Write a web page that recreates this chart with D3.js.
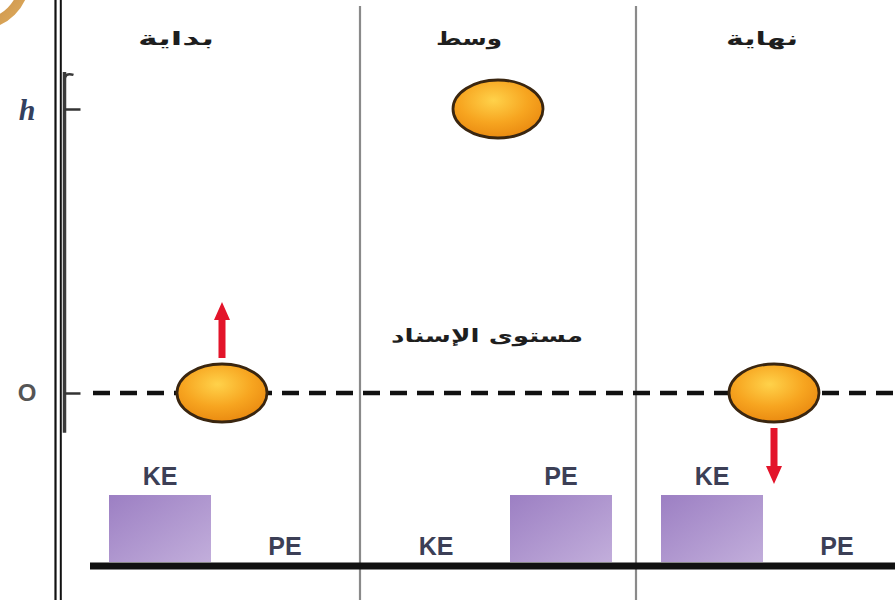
<!DOCTYPE html>
<html>
<head>
<meta charset="utf-8">
<script src="https://cdn.jsdelivr.net/npm/d3@7"></script>
<style>
  html, body { margin: 0; padding: 0; background: #ffffff; }
  svg { display: block; }
</style>
</head>
<body>
<svg id="chart" width="895" height="600"></svg>
<script>
// ---- data ----
const stages = ["بداية", "وسط", "نهاية"];          // stage titles
const keValues = [1, 0, 1];                         // kinetic energy (relative)
const peValues = [0, 1, 0];                         // potential energy (relative)
const ballHeights = [0, 1, 0];                      // ball height in units of h
const velocityDir = [1, 0, -1];                     // 1 = up, -1 = down, 0 = none
const energyNames = ["KE", "PE"];
const heightTickValues = [0, 1];
const heightTickLabels = ["O", "h"];
const referenceLabel = "مستوى الإسناد";

const svg = d3.select("#chart");
const W = 895, H = 600;

// ---- defs ----
const defs = svg.append("defs");
const bg = defs.append("radialGradient").attr("id", "ballGrad")
  .attr("cx", "45%").attr("cy", "35%").attr("r", "70%");
bg.append("stop").attr("offset", "0%").attr("stop-color", "#ffd24a");
bg.append("stop").attr("offset", "55%").attr("stop-color", "#f7a520");
bg.append("stop").attr("offset", "100%").attr("stop-color", "#e8860e");
const barG = defs.append("linearGradient").attr("id", "barGrad")
  .attr("x1", "0%").attr("y1", "0%").attr("x2", "100%").attr("y2", "100%");
barG.append("stop").attr("offset", "0%").attr("stop-color", "#9c7fc3");
barG.append("stop").attr("offset", "100%").attr("stop-color", "#c2aedb");
const arcG = defs.append("linearGradient").attr("id", "arcGrad")
  .attr("x1", "0%").attr("y1", "0%").attr("x2", "100%").attr("y2", "100%");
arcG.append("stop").attr("offset", "0%").attr("stop-color", "#b8772a");
arcG.append("stop").attr("offset", "100%").attr("stop-color", "#e0a850");

// ---- scales ----
const xPanel = d3.scalePoint().domain(stages).range([222, 774]);
const xTitle = d3.scalePoint().domain(stages).range([176, 762]);
const xSlot = d3.scaleBand().domain(energyNames).range([-113, 114]).paddingInner(0.184).paddingOuter(0);
const yE = d3.scaleLinear().domain([0, 1]).range([562, 495]);
const yH = d3.scaleLinear().domain([0, 1]).range([393, 109]);

// text widths matching the original typesetting
const titleWidth = {"بداية": 76, "وسط": 66, "نهاية": 72};

// horizontally stretch a text node (kept joined) to a target width
function fitWidth(sel, cx, target) {
  sel.each(function(d) {
    const node = this;
    const w = node.getComputedTextLength();
    const t = typeof target === "function" ? target(d) : target;
    const x = typeof cx === "function" ? cx(d) : cx;
    const s = w > 0 ? t / w : 1;
    d3.select(node).attr("x", 0)
      .attr("transform", `translate(${x},0) scale(${s},1)`);
  });
}

// ---- decorative corner arc ----
svg.append("path")
  .attr("d", d3.arc()({innerRadius: 42, outerRadius: 52, startAngle: Math.PI / 2, endAngle: Math.PI})
    .toString())
  .attr("transform", "translate(-22,-22)")
  .attr("fill", "url(#arcGrad)")
  .attr("opacity", 0.9);

// ---- left frame lines ----
svg.append("line").attr("x1", 55.5).attr("x2", 55.5).attr("y1", 0).attr("y2", H)
  .attr("stroke", "#111").attr("stroke-width", 2.2);
svg.append("line").attr("x1", 60.8).attr("x2", 60.8).attr("y1", 0).attr("y2", H)
  .attr("stroke", "#111").attr("stroke-width", 2);

// ---- height axis ----
const axisX = 64.5;
svg.append("line").attr("x1", axisX).attr("x2", axisX)
  .attr("y1", yH(1.13)).attr("y2", yH(-0.14))
  .attr("stroke", "#3a3a3a").attr("stroke-width", 3.5);
svg.append("path")
  .attr("d", `M${axisX},${yH(1.1)} Q${axisX},${yH(1.13)} ${axisX + 9},${yH(1.12)}`)
  .attr("fill", "none").attr("stroke", "#3a3a3a").attr("stroke-width", 2.5);
const axisG = svg.append("g").attr("transform", `translate(${axisX},0)`)
  .call(d3.axisRight(yH).tickValues(heightTickValues).tickSize(16).tickFormat(""));
axisG.select(".domain").remove();
axisG.selectAll(".tick line").attr("stroke", "#333").attr("stroke-width", 2.5);

svg.selectAll("text.hlabel").data(heightTickValues).enter().append("text")
  .attr("class", "hlabel")
  .attr("x", 27)
  .attr("y", d => yH(d))
  .attr("dy", "0.35em")
  .attr("text-anchor", "middle")
  .attr("font-family", (d, i) => i === 1 ? "Liberation Serif, serif" : "Liberation Sans, Arial, sans-serif")
  .attr("font-style", (d, i) => i === 1 ? "italic" : "normal")
  .attr("font-weight", "bold")
  .attr("font-size", (d, i) => i === 1 ? 30 : 24)
  .attr("fill", (d, i) => i === 1 ? "#33405e" : "#555")
  .text((d, i) => heightTickLabels[i]);

// ---- panel separators ----
const seps = [0, 1].map(i => (xPanel(stages[i]) + xPanel(stages[i + 1])) / 2);
svg.selectAll("line.sep").data(seps).enter().append("line")
  .attr("class", "sep")
  .attr("x1", d => d).attr("x2", d => d)
  .attr("y1", 6).attr("y2", H)
  .attr("stroke", "#8a8a8a").attr("stroke-width", 2.2);

// ---- reference (dashed) line ----
svg.append("line")
  .attr("x1", 93).attr("x2", W)
  .attr("y1", yH(0)).attr("y2", yH(0))
  .attr("stroke", "#111").attr("stroke-width", 4.5)
  .attr("stroke-dasharray", "17,10");

// ---- ground line ----
svg.append("line")
  .attr("x1", 90).attr("x2", W)
  .attr("y1", yE(0) + 4).attr("y2", yE(0) + 4)
  .attr("stroke", "#111").attr("stroke-width", 7);

// ---- titles ----
svg.selectAll("text.title").data(stages).enter().append("text")
  .attr("class", "title")
  .attr("y", 45)
  .attr("text-anchor", "middle")
  .attr("direction", "rtl")
  .attr("font-family", "DejaVu Sans, sans-serif")
  .attr("font-weight", "bold")
  .attr("font-size", 19)
  .attr("fill", "#1e1e1e")
  .text(d => d)
  .call(fitWidth, d => xTitle(d), d => titleWidth[d]);

// reference level label
svg.append("text")
  .datum(referenceLabel)
  .attr("y", yH(0.2))
  .attr("dy", "0.35em")
  .attr("text-anchor", "middle")
  .attr("direction", "rtl")
  .attr("font-family", "DejaVu Sans, sans-serif")
  .attr("font-weight", "bold")
  .attr("font-size", 18)
  .attr("fill", "#1e1e1e")
  .text(d => d)
  .call(fitWidth, xPanel(stages[1]) - 11, 192);

// ---- energy bars ----
const energyData = [];
stages.forEach((s, i) => {
  energyData.push({stage: s, name: "KE", value: keValues[i]});
  energyData.push({stage: s, name: "PE", value: peValues[i]});
});
svg.selectAll("rect.bar").data(energyData.filter(d => d.value > 0)).enter().append("rect")
  .attr("class", "bar")
  .attr("x", d => xPanel(d.stage) + xSlot(d.name))
  .attr("y", d => yE(d.value))
  .attr("width", xSlot.bandwidth())
  .attr("height", d => yE(0) - yE(d.value))
  .attr("fill", "url(#barGrad)");

svg.selectAll("text.elabel").data(energyData).enter().append("text")
  .attr("class", "elabel")
  .attr("x", d => xPanel(d.stage) + xSlot(d.name) + xSlot.bandwidth() / 2)
  .attr("y", d => d.value > 0 ? yE(d.value) - 10 : yE(0) - 7)
  .attr("text-anchor", "middle")
  .attr("font-family", "Liberation Sans, Arial, sans-serif")
  .attr("font-weight", "bold")
  .attr("font-size", 25)
  .attr("fill", "#3c3f56")
  .text(d => d.name);

// ---- velocity arrows ----
const rx = 45, ry = 29;
const arrowData = stages.map((s, i) => ({stage: s, dir: velocityDir[i], h: ballHeights[i]}))
  .filter(d => d.dir !== 0);
svg.selectAll("path.arrow").data(arrowData).enter().append("path")
  .attr("class", "arrow")
  .attr("d", d => {
    const x = xPanel(d.stage);
    const y0 = yH(d.h) - d.dir * (ry + 6);
    const len = 56, headL = 18, sw = 3.5, hw = 8;
    const y1 = y0 - d.dir * len;
    const yb = y1 + d.dir * headL;
    return `M${x - sw},${y0} L${x - sw},${yb} L${x - hw},${yb} L${x},${y1} L${x + hw},${yb} L${x + sw},${yb} L${x + sw},${y0} Z`;
  })
  .attr("fill", "#e3142a");

// ---- balls ----
svg.selectAll("ellipse.ball").data(stages).enter().append("ellipse")
  .attr("class", "ball")
  .attr("cx", d => xPanel(d))
  .attr("cy", (d, i) => yH(ballHeights[i]))
  .attr("rx", rx).attr("ry", ry)
  .attr("fill", "url(#ballGrad)")
  .attr("stroke", "#3a2610").attr("stroke-width", 2.8);
</script>
</body>
</html>
